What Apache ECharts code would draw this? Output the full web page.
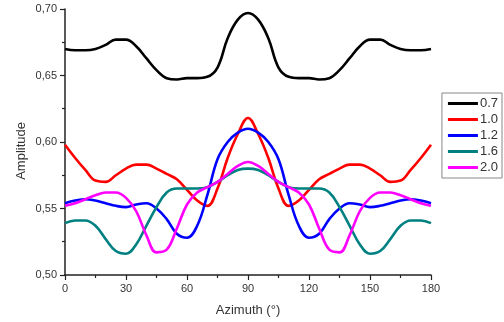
<!DOCTYPE html>
<html>
<head>
<meta charset="utf-8">
<script src="https://cdn.jsdelivr.net/npm/echarts@6/dist/echarts.min.js"></script>
<style>
  html, body { margin: 0; padding: 0; background: #fff; }
  #chart { width: 504px; height: 322px; }
</style>
</head>
<body>
<div id="chart"></div>
<script>
// azimuth in degrees, one sample every 5 deg
const azimuth = [0, 5, 10, 15, 20, 25, 30, 35, 40, 45, 50, 55, 60, 65, 70, 75, 80, 85, 90,
  95, 100, 105, 110, 115, 120, 125, 130, 135, 140, 145, 150, 155, 160, 165, 170, 175, 180];

const seriesNames = ['0.7', '1.0', '1.2', '1.6', '2.0'];
const seriesColors = ['#000000', '#ff0000', '#0000ff', '#008080', '#ff00ff'];

const amp07 = [0.670, 0.669, 0.669, 0.670, 0.673, 0.677, 0.677, 0.672, 0.663, 0.654, 0.648, 0.647, 0.648, 0.648, 0.649, 0.656, 0.678, 0.692, 0.697,
  0.692, 0.678, 0.656, 0.649, 0.648, 0.648, 0.647, 0.648, 0.654, 0.663, 0.672, 0.677, 0.677, 0.673, 0.670, 0.669, 0.669, 0.670];
const amp10 = [0.598, 0.588, 0.579, 0.571, 0.570, 0.575, 0.580, 0.583, 0.583, 0.580, 0.576, 0.572, 0.564, 0.556, 0.552, 0.565, 0.588, 0.606, 0.618,
  0.606, 0.588, 0.565, 0.552, 0.556, 0.564, 0.572, 0.576, 0.580, 0.583, 0.583, 0.580, 0.575, 0.570, 0.571, 0.579, 0.588, 0.598];
const amp12 = [0.554, 0.556, 0.557, 0.556, 0.554, 0.552, 0.551, 0.553, 0.554, 0.550, 0.542, 0.531, 0.528, 0.537, 0.560, 0.587, 0.600, 0.607, 0.610,
  0.607, 0.600, 0.587, 0.560, 0.537, 0.528, 0.531, 0.542, 0.550, 0.554, 0.553, 0.551, 0.552, 0.554, 0.556, 0.557, 0.556, 0.554];
const amp16 = [0.539, 0.541, 0.541, 0.537, 0.527, 0.518, 0.516, 0.523, 0.537, 0.551, 0.562, 0.565, 0.565, 0.565, 0.566, 0.570, 0.575, 0.579, 0.580,
  0.579, 0.575, 0.570, 0.566, 0.565, 0.565, 0.565, 0.562, 0.551, 0.537, 0.523, 0.516, 0.518, 0.527, 0.537, 0.541, 0.541, 0.539];
const amp20 = [0.552, 0.554, 0.557, 0.560, 0.562, 0.562, 0.558, 0.548, 0.530, 0.517, 0.519, 0.535, 0.553, 0.562, 0.566, 0.570, 0.576, 0.582, 0.585,
  0.582, 0.576, 0.570, 0.566, 0.562, 0.553, 0.535, 0.519, 0.517, 0.530, 0.548, 0.558, 0.562, 0.562, 0.560, 0.557, 0.554, 0.552];

const allAmps = [amp07, amp10, amp12, amp16, amp20];

const chart = echarts.init(document.getElementById('chart'), null, { renderer: 'canvas' });

const axisCommon = {
  axisLine: { show: true, lineStyle: { color: '#222', width: 1.5 } },
  axisTick: { show: true, inside: false, length: 5, lineStyle: { color: '#222', width: 1.2 } },
  minorTick: { show: true, splitNumber: 2, length: 3, lineStyle: { color: '#222', width: 1.2 } },
  splitLine: { show: false },
  axisLabel: { color: '#333', fontSize: 11, fontFamily: 'Liberation Sans' },
  nameTextStyle: { color: '#333', fontSize: 13, fontFamily: 'Liberation Sans' }
};

chart.setOption({
  animation: false,
  backgroundColor: '#fff',
  grid: { left: 65, right: 73, top: 9, bottom: 45 },
  legend: {
    orient: 'vertical',
    right: 2,
    top: 93,
    padding: [4, 4, 4, 6],
    itemGap: 3,
    itemWidth: 30,
    itemHeight: 3,
    icon: 'rect',
    borderColor: '#888',
    borderWidth: 1,
    textStyle: { color: '#333', fontSize: 13, fontFamily: 'Liberation Sans', padding: [0, 0, 0, -3] },
    data: seriesNames
  },
  // y axis title sits a bit below the axis middle in the original
  graphic: [{
    type: 'text',
    left: 15,
    top: 122,
    rotation: Math.PI / 2,
    style: { text: 'Amplitude', fill: '#333', font: '13px "Liberation Sans"' }
  }],
  xAxis: Object.assign({}, axisCommon, {
    type: 'value',
    min: 0,
    max: 180,
    interval: 30,
    name: 'Azimuth (°)',
    nameLocation: 'middle',
    nameGap: 29
  }),
  yAxis: Object.assign({}, axisCommon, {
    type: 'value',
    min: 0.50,
    max: 0.70,
    interval: 0.05,
    axisLabel: Object.assign({}, axisCommon.axisLabel, {
      formatter: v => v.toFixed(2).replace('.', ',')
    })
  }),
  series: seriesNames.map((name, i) => ({
    name: name,
    type: 'line',
    smooth: 0.4,
    showSymbol: false,
    symbol: 'none',
    color: seriesColors[i],
    lineStyle: { color: seriesColors[i], width: 2.6 },
    data: azimuth.map((a, j) => [a, allAmps[i][j]])
  }))
});
</script>
</body>
</html>
